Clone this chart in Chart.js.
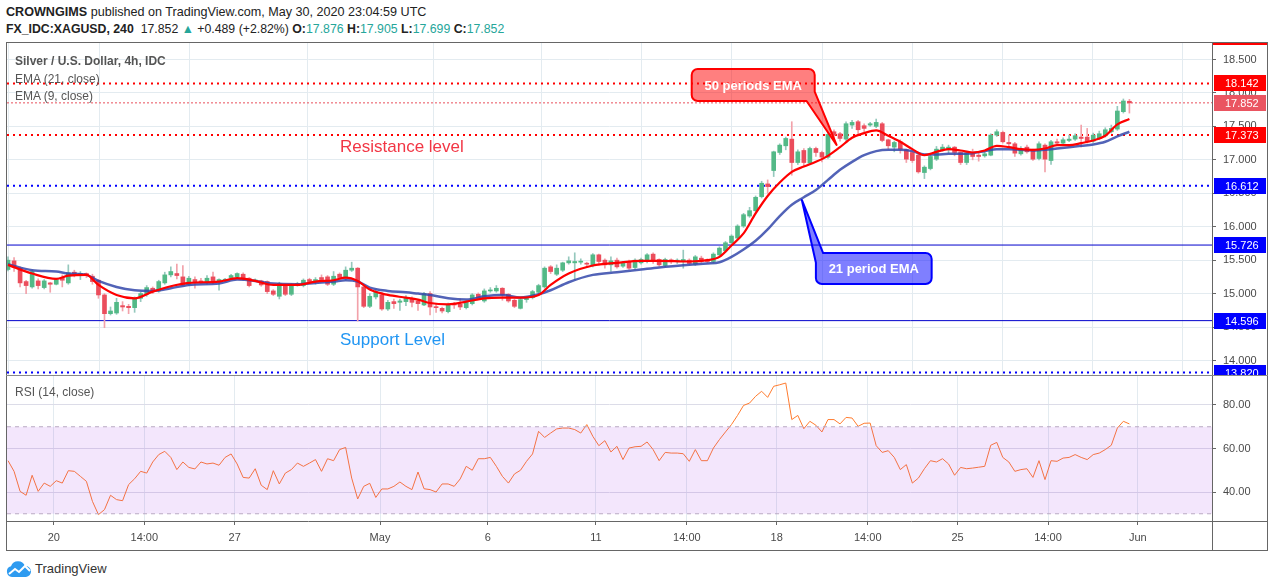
<!DOCTYPE html>
<html>
<head>
<meta charset="utf-8">
<script src="https://cdn.jsdelivr.net/npm/chart.js@4.4.0/dist/chart.umd.min.js"></script>
<style>
  body { margin: 0; background: #fff; font-family: "Liberation Sans", Arial, sans-serif; }
  #page { position: relative; width: 1274px; height: 587px; overflow: hidden; background: #fff; }
  .txt { position: absolute; white-space: nowrap; z-index: 5; }
  .hdr { left: 6px; font-size: 12.6px; color: #222; }
  .g { color: #26a69a; }
  .leg { left: 15px; font-size: 12px; color: #555; }
  .line { position: absolute; background: #666; z-index: 6; }
  canvas { position: absolute; left: 0; }
</style>
</head>
<body>
<div id="page">
  <div class="txt hdr" style="top:5px"><b>CROWNGIMS</b> published on TradingView.com, May 30, 2020 23:04:59 UTC</div>
  <div class="txt hdr" style="top:22px;font-size:12.3px"><b>FX_IDC:XAGUSD, 240</b>&nbsp; 17.852 <span class="g">&#9650;</span> +0.489 (+2.82%) <b>O:</b><span class="g">17.876</span> <b>H:</b><span class="g">17.905</span> <b>L:</b><span class="g">17.699</span> <b>C:</b><span class="g">17.852</span></div>

  <canvas id="priceChart" width="1274" height="332" style="top:43px"></canvas>
  <canvas id="rsiChart" width="1274" height="174" style="top:376px"></canvas>

  <div class="txt leg" style="top:54px;font-weight:bold">Silver / U.S. Dollar, 4h, IDC</div>
  <div class="txt leg" style="top:72px">EMA (21, close)</div>
  <div class="txt leg" style="top:89px">EMA (9, close)</div>
  <div class="txt" style="left:340px;top:137px;font-size:17px;color:#f23645">Resistance level</div>
  <div class="txt" style="left:340px;top:330px;font-size:17px;color:#2196f3">Support Level</div>
  <div class="txt leg" style="top:385px">RSI (14, close)</div>

  <div class="line" style="left:6px;top:42px;width:1262px;height:1px"></div>
  <div class="line" style="left:6px;top:42px;width:1px;height:509px"></div>
  <div class="line" style="left:1267px;top:42px;width:1px;height:509px"></div>
  <div class="line" style="left:6px;top:550px;width:1262px;height:1px"></div>
  <div class="line" style="left:6px;top:375px;width:1262px;height:1px;background:#888"></div>
  <div class="line" style="left:1212px;top:521px;width:56px;height:1px"></div>
  <div class="line" style="left:1212px;top:521px;width:1px;height:30px"></div>
  <div class="line" style="left:1213px;top:43px;width:54px;height:2px;background:#ff0000"></div>

  <svg style="position:absolute;left:6px;top:561px" width="26" height="17" viewBox="0 0 26 17">
    <path d="M6 16 A5.5 5.5 0 0 1 5 5.2 A7.5 7.5 0 0 1 19 5 A5.5 5.5 0 0 1 20 16 Z" fill="#2e9bf0"/>
    <polyline points="3,13 9,8 13,11 19,5 24,10" fill="none" stroke="#fff" stroke-width="2"/>
  </svg>
  <div class="txt" style="left:35px;top:561px;font-size:13px;color:#333">TradingView</div>
</div>

<script>
'use strict';

// 4h candles, Apr 17 - May 29 2020 (index 0 = first visible candle)
let opens = [
  15.36,15.49,15.38,15.18,15.10,15.19,15.09,15.16,15.14,15.24,
  15.16,15.32,15.28,15.30,15.26,15.20,14.98,14.70,14.71,14.82,
  14.81,14.79,14.93,14.99,15.08,15.04,15.16,15.28,15.30,15.25,
  15.14,15.21,15.19,15.17,15.25,15.18,15.20,15.24,15.25,15.29,
  15.23,15.19,15.19,15.18,15.04,14.96,15.13,14.99,15.13,15.12,
  15.21,15.18,15.24,15.25,15.14,15.29,15.23,15.35,15.38,15.10,
  14.81,14.95,14.98,14.77,14.88,14.87,14.88,14.92,14.89,14.83,
  15.00,14.80,14.78,14.73,14.84,14.84,14.79,14.85,14.99,14.89,
  15.04,15.04,15.08,14.99,14.90,14.78,14.91,14.94,15.02,15.10,
  15.40,15.29,15.35,15.46,15.46,15.47,15.45,15.43,15.58,15.50,
  15.43,15.50,15.41,15.47,15.39,15.46,15.48,15.59,15.51,15.42,
  15.50,15.48,15.49,15.50,15.44,15.53,15.50,15.48,15.58,15.64,
  15.76,15.83,16.01,16.16,16.24,16.45,16.64,16.84,17.11,17.21,
  17.31,16.96,17.14,16.95,17.17,17.11,17.04,17.42,17.39,17.31,
  17.52,17.57,17.51,17.52,17.50,17.54,17.30,17.19,17.27,17.15,
  17.11,17.07,16.81,16.87,17.01,17.15,17.15,17.19,17.11,16.96,
  17.09,17.07,17.06,17.07,17.37,17.41,17.26,17.24,17.09,17.19,
  17.14,17.02,17.22,16.99,17.27,17.25,17.29,17.31,17.34,17.34,
  17.28,17.32,17.36,17.42,17.46,17.72,17.876
];
let highs = [
  15.55,15.54,15.40,15.20,15.35,15.22,15.21,15.17,15.23,15.28,
  15.43,15.35,15.33,15.31,15.29,15.21,15.00,14.80,14.93,14.88,
  14.84,14.95,15.02,15.12,15.10,15.20,15.32,15.40,15.44,15.42,
  15.26,15.25,15.23,15.27,15.32,15.22,15.23,15.29,15.31,15.31,
  15.24,15.22,15.20,15.19,15.06,15.17,15.14,15.15,15.17,15.22,
  15.23,15.24,15.28,15.27,15.33,15.31,15.40,15.47,15.39,15.12,
  15.00,15.06,15.02,14.90,14.92,14.92,14.97,14.95,14.91,15.02,
  15.03,14.84,14.80,14.86,14.87,14.92,14.89,15.00,15.01,15.07,
  15.09,15.12,15.09,15.00,14.92,14.93,14.95,15.05,15.14,15.40,
  15.42,15.43,15.47,15.55,15.61,15.52,15.47,15.60,15.59,15.52,
  15.55,15.53,15.48,15.50,15.52,15.53,15.60,15.61,15.52,15.53,
  15.52,15.52,15.65,15.52,15.57,15.56,15.52,15.61,15.70,15.78,
  15.88,16.03,16.20,16.29,16.46,16.68,16.70,17.13,17.24,17.34,
  17.57,17.15,17.17,17.19,17.19,17.13,17.40,17.45,17.41,17.57,
  17.59,17.59,17.54,17.56,17.61,17.56,17.31,17.28,17.30,17.16,
  17.12,17.09,16.91,17.08,17.20,17.23,17.22,17.20,17.12,17.13,
  17.16,17.10,17.11,17.39,17.45,17.43,17.37,17.26,17.20,17.22,
  17.16,17.27,17.24,17.29,17.31,17.33,17.37,17.39,17.52,17.47,
  17.40,17.43,17.48,17.52,17.80,17.91,17.905
];
let lows = [
  15.34,15.33,15.10,15.00,15.08,15.07,15.07,15.02,15.13,15.10,
  15.14,15.25,15.21,15.24,15.14,14.93,14.49,14.68,14.69,14.74,
  14.70,14.72,14.88,14.96,15.00,15.02,15.14,15.25,15.22,15.11,
  15.12,15.08,15.15,15.14,15.15,15.05,15.18,15.22,15.23,15.20,
  15.10,15.18,15.11,15.00,14.97,14.92,14.97,14.97,15.11,15.10,
  15.16,15.14,15.19,15.12,15.12,15.22,15.20,15.33,14.59,14.79,
  14.79,14.92,14.75,14.75,14.78,14.75,14.82,14.80,14.75,14.82,
  14.68,14.72,14.71,14.71,14.78,14.76,14.77,14.83,14.92,14.87,
  15.02,15.02,14.90,14.87,14.79,14.77,14.87,14.92,15.00,15.08,
  15.30,15.27,15.33,15.44,15.21,15.44,15.40,15.40,15.43,15.38,
  15.33,15.38,15.39,15.36,15.37,15.44,15.46,15.45,15.41,15.40,
  15.45,15.45,15.38,15.43,15.42,15.46,15.46,15.46,15.56,15.62,
  15.74,15.81,15.99,16.14,16.22,16.43,16.50,16.75,17.08,17.15,
  16.77,16.93,16.90,16.93,17.05,16.97,17.02,17.33,17.28,17.29,
  17.47,17.36,17.40,17.50,17.48,17.27,17.16,17.12,17.10,16.96,
  16.96,16.80,16.72,16.85,16.99,17.13,17.10,17.06,16.93,16.93,
  17.00,16.98,17.04,17.06,17.35,17.25,17.20,17.05,17.07,17.10,
  16.99,17.00,16.82,16.93,17.22,17.23,17.27,17.29,17.19,17.25,
  17.26,17.30,17.34,17.40,17.44,17.70,17.699
];
let closes = [
  15.50,15.39,15.16,15.12,15.33,15.12,15.19,15.14,15.21,15.20,
  15.31,15.30,15.30,15.27,15.18,14.98,14.70,14.74,14.87,14.80,
  14.79,14.93,15.00,15.09,15.04,15.18,15.28,15.33,15.27,15.13,
  15.23,15.16,15.17,15.23,15.18,15.21,15.21,15.27,15.30,15.23,
  15.12,15.20,15.13,15.03,14.99,15.15,14.99,15.13,15.15,15.20,
  15.18,15.21,15.21,15.14,15.26,15.24,15.35,15.38,15.10,14.81,
  14.96,15.03,14.77,14.87,14.85,14.89,14.93,14.87,14.85,15.00,
  14.80,14.79,14.74,14.83,14.83,14.80,14.87,14.98,14.94,15.04,
  15.05,15.08,14.98,14.89,14.81,14.91,14.94,15.03,15.12,15.38,
  15.33,15.38,15.46,15.49,15.48,15.48,15.44,15.58,15.48,15.43,
  15.49,15.40,15.46,15.38,15.50,15.51,15.58,15.50,15.43,15.51,
  15.49,15.50,15.51,15.45,15.55,15.48,15.48,15.59,15.68,15.76,
  15.86,16.01,16.18,16.24,16.44,16.65,16.60,17.12,17.22,17.32,
  16.96,17.12,16.96,17.17,17.11,17.04,17.38,17.37,17.32,17.54,
  17.56,17.45,17.47,17.54,17.56,17.29,17.21,17.26,17.16,17.01,
  16.99,16.82,16.89,17.05,17.16,17.19,17.19,17.11,16.96,17.10,
  17.05,17.05,17.09,17.37,17.42,17.27,17.24,17.10,17.15,17.12,
  17.01,17.24,17.01,17.27,17.25,17.30,17.31,17.36,17.32,17.27,
  17.37,17.39,17.45,17.47,17.73,17.88,17.852
];

// EMA lines, read at these candle indexes
let emaIdx = [0,4,8,10,13,15,18,21,24,27, 30,35,38,41,44,48,51,54,56,58,
  60,63,66,68,70,73,76,79,82,85, 88,90,93,97,101,105,108,113,116,118,
  120,122,124,126,128,130,132,134,136,138, 140,142,144,146,148,150,152,154,156,158,
  160,162,164,166,168,170,172,174,176,178, 180,182,184,186];
let ema9 = [15.43,15.30,15.22,15.27,15.28,15.13,14.98,14.93,15.03,15.11,
  15.16,15.18,15.23,15.19,15.13,15.13,15.18,15.20,15.24,15.19,
  15.06,14.98,14.94,14.91,14.86,14.84,14.88,14.93,14.94,14.94,
  14.98,15.13,15.30,15.42,15.46,15.49,15.49,15.48,15.50,15.55,
  15.72,15.90,16.20,16.46,16.66,16.82,16.90,16.97,17.06,17.19,
  17.33,17.40,17.44,17.36,17.27,17.16,17.07,17.12,17.16,17.14,
  17.11,17.14,17.21,17.19,17.16,17.15,17.17,17.22,17.22,17.25,
  17.29,17.36,17.53,17.61];
let ema21 = [15.44,15.35,15.33,15.30,15.28,15.19,15.10,15.05,15.04,15.08,
  15.13,15.15,15.21,15.19,15.15,15.14,15.16,15.18,15.20,15.18,
  15.09,15.04,15.02,15.00,14.98,14.93,14.91,14.96,14.98,14.94,
  14.99,15.05,15.17,15.28,15.32,15.36,15.39,15.43,15.45,15.47,
  15.55,15.66,15.79,15.96,16.16,16.33,16.44,16.55,16.70,16.85,
  16.97,17.07,17.13,17.15,17.15,17.13,17.08,17.08,17.09,17.09,
  17.10,17.13,17.16,17.16,17.15,17.14,17.15,17.17,17.19,17.21,
  17.23,17.27,17.35,17.42];

// RSI (14, close), one value per candle
let rsi = [
  54.4,49.5,40.3,38.5,47.7,40.3,44.1,42.6,45.2,44.1,
  49.8,49.5,47.2,44.9,35.7,29.6,31.9,38.5,36.5,36.0,
  43.4,46.1,49.5,48.7,53.8,57.2,58.7,55.9,50.3,53.8,
  51.3,50.6,53.8,52.9,53.3,52.3,55.9,57.5,52.9,46.7,
  46.4,50.7,43.1,41.1,49.8,43.7,48.7,50.3,53.3,51.8,
  53.3,54.9,49.5,55.3,54.4,59.5,60.5,46.4,36.8,42.6,
  44.0,37.5,41.4,41.4,42.6,44.6,42.6,41.1,49.2,41.5,
  41.1,40.0,43.7,43.7,42.6,46.0,51.8,50.0,55.3,55.3,
  55.9,51.8,47.2,44.1,48.3,50.0,54.1,57.5,67.9,65.1,
  67.1,69.0,69.4,69.4,68.7,67.1,71.0,65.6,61.3,63.6,
  58.4,61.0,54.9,60.2,60.8,61.0,63.0,59.5,54.4,58.2,
  57.9,57.9,57.6,54.1,59.5,54.4,54.4,60.2,64.1,67.6,
  71.0,75.2,79.8,80.9,84.0,86.3,83.5,88.6,89.3,90.1,
  73.3,75.2,69.1,72.5,70.7,67.6,73.3,73.3,71.3,74.3,
  74.0,70.2,71.6,71.7,61.3,58.2,59.0,55.9,50.3,52.6,
  44.1,46.4,50.7,54.4,53.8,55.3,52.9,47.7,51.3,50.7,
  51.0,51.4,51.8,61.5,62.8,55.9,53.8,49.5,50.3,50.7,
  46.7,54.4,45.7,54.4,54.1,55.6,55.9,57.2,55.9,54.9,
  57.2,57.9,59.5,61.5,69.4,72.5,71.3
];

// price levels drawn across the chart and tagged on the axis
let levels = [18.142, 17.852, 17.373, 16.612, 15.726, 14.596, 13.820];
let priceTicks = [14.0, 14.5, 15.0, 15.5, 16.0, 16.5, 17.0, 17.5, 18.0, 18.5];
let rsiTicks = [40, 60, 80];
let rsiBands = [30, 70];
let timeTickPos = [7.6, 22.6, 37.6, 61.7, 79.6, 97.5, 112.6, 127.5, 142.6, 157.5, 172.5, 187.4];
let timeTickText = ['20', '14:00', '27', 'May', '6', '11', '14:00', '18', '14:00', '25', '14:00', 'Jun'];

// ---- styles ----
let xMin = -0.17;
let xMax = 199.7;
let gridColor = '#e3ebf0';
let axisColor = '#666';
let upColor = '#53b987';
let downColor = '#eb4d5c';
let upWick = '#95c8bd';
let downWick = '#f2a2aa';
let levelStyles = [
  { color: '#ff0000', width: 2, dash: [2, 4], tag: '#ff0000' },
  { color: '#e8505c', width: 1, dash: [2, 2], tag: '#ea5561' },
  { color: '#ff0000', width: 2, dash: [2, 4], tag: '#ff0000' },
  { color: '#0000ff', width: 2, dash: [2, 4], tag: '#0000ff' },
  { color: '#0000cc', width: 1, dash: [], tag: '#0000ff' },
  { color: '#0000cc', width: 1, dash: [], tag: '#0000ff' },
  { color: '#0000ff', width: 2, dash: [2, 4], tag: '#0000ff' }
];
let callouts = [
  { text: '50 periods EMA', fill: 'rgba(255,0,0,0.5)', stroke: '#ff0000',
    box: [113.4, 133.8, 18.358, 17.880], pointer: 'bottomRight',
    baseA: [133.8, 18.02], baseB: [132.45, 17.880], tip: [137.43, 17.222] },
  { text: '21 period EMA', fill: 'rgba(0,0,255,0.5)', stroke: '#0000ff',
    box: [134.0, 153.2, 15.607, 15.144], pointer: 'topLeft',
    baseA: [135.2, 15.607], baseB: [134.0, 15.46], tip: [131.67, 16.40] }
];

Chart.defaults.font.family = "'Liberation Sans', Arial, sans-serif";
Chart.defaults.font.size = 11;
Chart.defaults.color = '#4a4a4a';

let idx = opens.map((v, i) => i);

// no edge padding, so the value range fills the pane exactly
function fitY(s) { s.width = 54; s.paddingTop = 0; s.paddingBottom = 0; }

let levelTags = {
  id: 'levelTags',
  afterDraw(chart) {
    let ctx = chart.ctx;
    let y = chart.scales.y;
    let left = chart.chartArea.right + 2;
    ctx.save();
    ctx.font = "11px 'Liberation Sans', Arial, sans-serif";
    ctx.textBaseline = 'middle';
    levels.forEach((lv, k) => {
      let py = Math.round(y.getPixelForValue(lv));
      ctx.fillStyle = levelStyles[k].tag;
      ctx.fillRect(left, py - 8, 52, 16);
      ctx.fillStyle = '#fff';
      ctx.fillText(lv.toFixed(3), left + 11, py + 1);
    });
    ctx.restore();
  }
};

function roundedPath(ctx, pts) {
  let n = pts.length;
  ctx.beginPath();
  ctx.moveTo((pts[0][0] + pts[n - 1][0]) / 2, (pts[0][1] + pts[n - 1][1]) / 2);
  for (let i = 0; i < n; i++) {
    let p = pts[i];
    let q = pts[(i + 1) % n];
    if (p[2] > 0) ctx.arcTo(p[0], p[1], q[0], q[1], p[2]);
    else ctx.lineTo(p[0], p[1]);
  }
  ctx.closePath();
}

let calloutPlugin = {
  id: 'callouts',
  afterDraw(chart) {
    let ctx = chart.ctx;
    let sx = chart.scales.x;
    let sy = chart.scales.y;
    let px = v => sx.getPixelForValue(v);
    let py = v => sy.getPixelForValue(v);
    ctx.save();
    callouts.forEach(c => {
      let L = px(c.box[0]), R = px(c.box[1]), T = py(c.box[2]), B = py(c.box[3]);
      let a = [px(c.baseA[0]), py(c.baseA[1])];
      let b = [px(c.baseB[0]), py(c.baseB[1])];
      let t = [px(c.tip[0]), py(c.tip[1])];
      let pts;
      if (c.pointer === 'bottomRight') {
        pts = [[L, T, 6], [R, T, 6], [a[0], a[1], 0], [t[0], t[1], 0], [b[0], b[1], 0], [L, B, 6]];
      } else {
        pts = [[a[0], a[1], 0], [R, T, 6], [R, B, 6], [L, B, 6], [b[0], b[1], 0], [t[0], t[1], 0]];
      }
      roundedPath(ctx, pts);
      ctx.fillStyle = c.fill;
      ctx.fill();
      ctx.lineWidth = 2;
      ctx.strokeStyle = c.stroke;
      ctx.lineJoin = 'round';
      ctx.stroke();
      ctx.fillStyle = '#fff';
      ctx.font = "bold 13px 'Liberation Sans', Arial, sans-serif";
      ctx.textAlign = 'center';
      ctx.textBaseline = 'middle';
      ctx.fillText(c.text, (L + R) / 2, (T + B) / 2 + 1);
    });
    ctx.restore();
  }
};

let levelSets = levels.map((lv, k) => ({
  type: 'line',
  label: 'level ' + lv,
  data: [{ x: xMin, y: lv }, { x: xMax, y: lv }],
  borderColor: levelStyles[k].color,
  borderWidth: levelStyles[k].width,
  borderDash: levelStyles[k].dash,
  pointRadius: 0,
  order: 5
}));

let priceCtx = document.getElementById('priceChart').getContext('2d');
let priceChart = new Chart(priceCtx, {
  type: 'bar',
  data: {
    datasets: levelSets.concat([
      {
        label: 'wicks',
        data: idx.map(i => ({ x: i, y: [lows[i], highs[i]] })),
        backgroundColor: idx.map(i => closes[i] >= opens[i] ? upWick : downWick),
        barThickness: 1,
        grouped: false,
        order: 4
      },
      {
        label: 'bodies',
        data: idx.map(i => ({ x: i, y: [opens[i], closes[i]] })),
        backgroundColor: idx.map(i => closes[i] >= opens[i] ? upColor : downColor),
        barThickness: 4,
        minBarLength: 1,
        grouped: false,
        order: 3
      },
      {
        type: 'line',
        label: 'EMA (21, close)',
        data: emaIdx.map((j, k) => ({ x: j, y: ema21[k] })),
        borderColor: 'rgba(52,72,170,0.85)',
        borderWidth: 2.5,
        pointRadius: 0,
        cubicInterpolationMode: 'monotone',
        order: 2
      },
      {
        type: 'line',
        label: 'EMA (9, close)',
        data: emaIdx.map((j, k) => ({ x: j, y: ema9[k] })),
        borderColor: '#ff0000',
        borderWidth: 2.2,
        pointRadius: 0,
        cubicInterpolationMode: 'monotone',
        order: 1
      }
    ])
  },
  options: {
    responsive: false,
    animation: false,
    layout: { padding: { left: 7, right: 8, top: 0, bottom: 0 } },
    plugins: { legend: { display: false }, tooltip: { enabled: false } },
    scales: {
      x: {
        type: 'linear',
        min: xMin,
        max: xMax,
        offset: false,
        afterBuildTicks: s => { s.ticks = timeTickPos.map(v => ({ value: v })); },
        afterFit: s => { s.height = 0; s.paddingLeft = 0; s.paddingRight = 0; },
        ticks: { display: false },
        grid: { color: gridColor, drawTicks: false },
        border: { display: false }
      },
      y: {
        position: 'right',
        min: 13.783,
        max: 18.747,
        afterBuildTicks: s => { s.ticks = priceTicks.map(v => ({ value: v })); },
        afterFit: fitY,
        ticks: { callback: v => Number(v).toFixed(3), padding: 7, color: '#4a4a4a' },
        grid: { color: gridColor, tickLength: 4, tickColor: axisColor },
        border: { color: axisColor }
      }
    }
  },
  plugins: [levelTags, calloutPlugin]
});

let rsiCtx = document.getElementById('rsiChart').getContext('2d');
let rsiChart = new Chart(rsiCtx, {
  type: 'line',
  data: {
    datasets: [
      {
        label: 'lower band',
        data: [{ x: xMin, y: rsiBands[0] }, { x: xMax, y: rsiBands[0] }],
        borderColor: '#b9aac3',
        borderWidth: 1,
        borderDash: [4, 4],
        pointRadius: 0,
        fill: false
      },
      {
        label: 'upper band',
        data: [{ x: xMin, y: rsiBands[1] }, { x: xMax, y: rsiBands[1] }],
        borderColor: '#b9aac3',
        borderWidth: 1,
        borderDash: [4, 4],
        pointRadius: 0,
        fill: '-1',
        backgroundColor: 'rgba(160,50,230,0.12)'
      },
      {
        label: 'RSI (14, close)',
        data: rsi.map((v, i) => ({ x: i, y: v })),
        borderColor: '#ff7b2e',
        borderWidth: 1,
        pointRadius: 0,
        fill: false
      }
    ]
  },
  options: {
    responsive: false,
    animation: false,
    layout: { padding: { left: 7, right: 8, top: 0, bottom: 0 } },
    plugins: { legend: { display: false }, tooltip: { enabled: false } },
    scales: {
      x: {
        type: 'linear',
        min: xMin,
        max: xMax,
        offset: false,
        afterBuildTicks: s => { s.ticks = timeTickPos.map(v => ({ value: v })); },
        afterFit: s => { s.height = 29; s.paddingLeft = 0; s.paddingRight = 0; },
        ticks: {
          autoSkip: false,
          maxRotation: 0,
          padding: 6,
          color: '#4a4a4a',
          callback: (v, i) => timeTickText[i]
        },
        grid: { color: gridColor, tickLength: 4, tickColor: axisColor },
        border: { color: axisColor }
      },
      y: {
        position: 'right',
        min: 26.67,
        max: 93.33,
        afterBuildTicks: s => { s.ticks = rsiTicks.map(v => ({ value: v })); },
        afterFit: fitY,
        ticks: { callback: v => Number(v).toFixed(2), padding: 7, color: '#4a4a4a' },
        grid: { color: '#dcdce8', tickLength: 4, tickColor: axisColor },
        border: { color: axisColor }
      }
    }
  }
});
</script>
</body>
</html>
